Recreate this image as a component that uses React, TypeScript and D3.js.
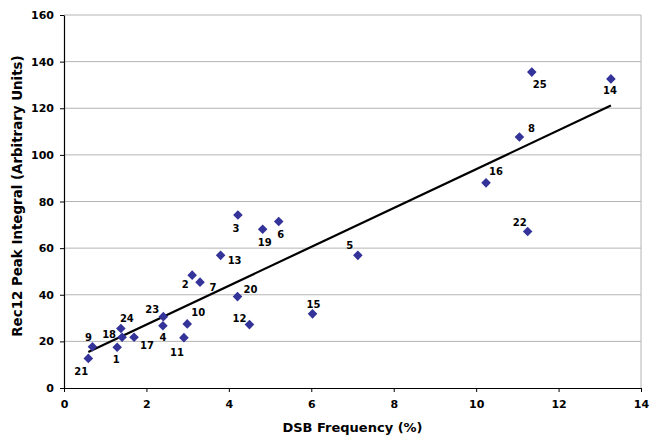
import React, { useEffect, useRef } from "react";
import * as d3 from "d3";

// point ids, DSB frequency (%) and Rec12 peak integral
const ids = [1, 2, 3, 4, 5, 6, 7, 8, 9, 10, 11, 12, 13, 14, 15, 16, 17, 18, 19, 20, 21, 22, 23, 24, 25];
const dsb = [1.29, 3.11, 4.22, 2.4, 7.13, 5.21, 3.3, 11.05, 0.69, 2.99, 2.91, 4.5, 3.8, 13.27, 6.03, 10.24, 1.7, 1.41, 4.82, 4.21, 0.59, 11.25, 2.41, 1.38, 11.35];
const rec12 = [17.5, 48.4, 74.2, 26.7, 56.9, 71.4, 45.4, 107.7, 17.7, 27.5, 21.6, 27.2, 56.9, 132.6, 31.8, 88.0, 21.8, 21.8, 68.1, 39.2, 12.7, 67.1, 30.6, 25.5, 135.5];

const xTicks = [0, 2, 4, 6, 8, 10, 12, 14];
const yTicks = [0, 20, 40, 60, 80, 100, 120, 140, 160];

// label placement (px offset from marker), layout only
const labelOffsets: [number, number][] = [
  [-1, 12], [-7, 9], [-2, 13], [0, 12], [-8, -10], [2, 13], [13, 5], [12, -8], [-4, -9], [11, -11],
  [-7, 15], [-10, -6], [14, 5], [-1, 12], [1, -9], [10, -11], [13, 8], [-13, -3], [2, 13], [13, -7],
  [-7, 13], [-8, -9], [-11, -7], [6, -10], [8, 12],
];

const W = 652;
const H = 441;
const margin = { top: 15, right: 11, bottom: 53, left: 64 };
const font = "Verdana, 'DejaVu Sans', sans-serif";

const App = () => {
  const ref = useRef<SVGSVGElement>(null);

  useEffect(() => {
    const svg = d3.select(ref.current);
    svg.selectAll("*").remove();

    const x = d3.scaleLinear().domain([0, 14]).range([margin.left, W - margin.right]);
    const y = d3.scaleLinear().domain([0, 160]).range([H - margin.bottom, margin.top]);

    svg.append("rect").attr("width", W).attr("height", H).attr("fill", "#fff");

    // gridlines
    svg
      .append("g")
      .selectAll("line")
      .data(yTicks.filter((t) => t > 0))
      .join("line")
      .attr("x1", x(0))
      .attr("x2", x(14))
      .attr("y1", (d) => y(d))
      .attr("y2", (d) => y(d))
      .attr("stroke", "#b4b4b4")
      .attr("stroke-width", 1);

    svg
      .append("line")
      .attr("x1", x(14))
      .attr("x2", x(14))
      .attr("y1", y(160))
      .attr("y2", y(0))
      .attr("stroke", "#b4b4b4");

    // axes
    const xAxis = svg
      .append("g")
      .attr("transform", `translate(0,${y(0)})`)
      .call(d3.axisBottom(x).tickValues(xTicks).tickSize(4).tickSizeOuter(0).tickPadding(8));
    const yAxis = svg
      .append("g")
      .attr("transform", `translate(${x(0)},0)`)
      .call(d3.axisLeft(y).tickValues(yTicks).tickSize(4).tickSizeOuter(0).tickPadding(6));

    [xAxis, yAxis].forEach((a) => {
      a.select(".domain").attr("stroke", "#000").attr("stroke-width", 1.2);
      a.selectAll(".tick line").attr("stroke", "#000");
      a.selectAll(".tick text")
        .attr("font-family", font)
        .attr("font-size", 11)
        .attr("font-weight", "bold")
        .attr("fill", "#000");
    });

    // linear trend line (least squares)
    const mx = d3.mean(dsb)!;
    const my = d3.mean(rec12)!;
    const slope =
      d3.sum(dsb, (d, i) => (d - mx) * (rec12[i] - my)) / d3.sum(dsb, (d) => (d - mx) * (d - mx));
    const icpt = my - slope * mx;
    const [x0, x1] = d3.extent(dsb) as [number, number];
    svg
      .append("path")
      .attr("d", d3.line<number>().x((d) => x(d)).y((d) => y(icpt + slope * d))([x0, x1]))
      .attr("stroke", "#000")
      .attr("stroke-width", 2.2)
      .attr("fill", "none");

    // markers
    const diamond = d3.symbol().type(d3.symbolSquare).size(46);
    svg
      .append("g")
      .selectAll("path")
      .data(ids)
      .join("path")
      .attr("d", diamond)
      .attr("transform", (_, i) => `translate(${x(dsb[i])},${y(rec12[i])}) rotate(45)`)
      .attr("fill", "#333399");

    // point labels
    svg
      .append("g")
      .selectAll("text")
      .data(ids)
      .join("text")
      .attr("x", (_, i) => x(dsb[i]) + labelOffsets[i][0])
      .attr("y", (_, i) => y(rec12[i]) + labelOffsets[i][1])
      .attr("text-anchor", "middle")
      .attr("dominant-baseline", "central")
      .attr("font-family", font)
      .attr("font-size", 10)
      .attr("font-weight", "bold")
      .text((d) => d);

    // axis titles
    svg
      .append("text")
      .attr("x", (x(0) + x(14)) / 2)
      .attr("y", 432)
      .attr("text-anchor", "middle")
      .attr("font-family", font)
      .attr("font-size", 13)
      .attr("font-weight", "bold")
      .text("DSB Frequency (%)");

    svg
      .append("text")
      .attr("transform", `translate(22,196) rotate(-90)`)
      .attr("text-anchor", "middle")
      .attr("font-family", font)
      .attr("font-size", 13.4)
      .attr("font-weight", "bold")
      .text("Rec12 Peak Integral (Arbitrary Units)");
  }, []);

  return (
    <svg
      ref={ref}
      width={W}
      height={H}
      style={{ position: "absolute", left: 0, top: 0, display: "block" }}
    ></svg>
  );
};

export default App;
